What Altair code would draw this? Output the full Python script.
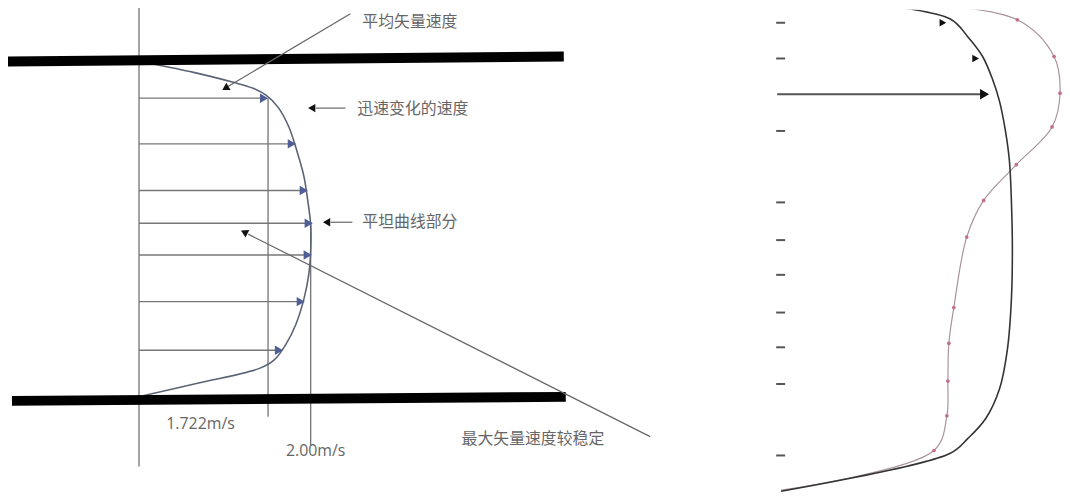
import altair as alt
import pandas as pd

# ---------------- data (diagram units) ----------------
# left panel: pipe walls (x0, y0, x1, y1)
wall_x0 = [8, 12]
wall_y0 = [60, 402]
wall_x1 = [568, 570]
wall_y1 = [55, 398]

# velocity profile curve
profile_x = [152, 195, 235, 255, 268, 280, 291, 299, 306, 310, 313, 313, 311, 306, 298, 288, 276, 262, 200, 143]
profile_y = [62, 71, 81, 87, 94, 106, 126, 150, 175, 200, 225, 250, 275, 300, 325, 345, 361, 369, 384, 397]

# velocity vectors: row position and tip
vec_y = [97, 143, 190, 223, 255, 302, 351]
vec_tip = [266, 294, 306, 311, 310, 303, 281]
vec_origin = 140

# reference lines (x, y top, y bottom)
ref_x = [140, 270, 313]
ref_y0 = [5, 97, 222]
ref_y1 = [468, 418, 447]
ref_labels = ["", "1.722m/s", "2.00m/s"]
ref_label_x = [0, 202, 318]
ref_label_y = [0, 425, 453]

# annotations: leader lines (from, to) and text
lead_x0 = [353, 348, 355, 655]
lead_y0 = [12, 107, 222, 438]
lead_x1 = [230, 318, 333, 250]
lead_y1 = [85, 107, 222, 234]
head_x = [227, 314, 329, 246]
head_y = [87, 107, 222, 232]
head_angle = [239, 270, 270, 297]
note_text = ["平均矢量速度", "迅速变化的速度", "平坦曲线部分", "最大矢量速度较稳定"]
note_x = [365, 360, 365, 465]
note_y = [20, 108, 222, 440]

# right panel: computed profile (black) and measured profile (pink)
calc_x = [860, 957, 975, 990, 1000, 1007, 1013, 1017, 1019, 1020, 1019, 1015, 1007, 993, 975, 957, 787]
calc_y = [0, 17, 35, 55, 78, 100, 130, 160, 200, 250, 300, 350, 390, 420, 440, 455, 493]
meas_x = [905, 1025, 1062, 1068, 1060, 1024, 991, 974, 961, 956, 955, 954, 941, 787]
meas_y = [0, 18, 55, 92, 126, 164, 200, 237, 308, 344, 382, 417, 452, 492]
meas_marked = [False] + [True] * 12 + [False]
tick_y = [21, 57, 130, 202, 240, 275, 313, 348, 385, 457]
tick_x0, tick_x1 = 782, 791
r_arrow_y = 93
r_arrow_x0, r_arrow_x1 = 783, 990
r_head_x = [950, 983, 992]
r_head_y = [21, 57, 93]

# ---------------- build chart ----------------
xs = alt.Scale(domain=[8, 1070], nice=False, zero=False)
ys = alt.Scale(domain=[8, 499], nice=False, zero=False, reverse=True)


def X(f="x"):
    return alt.X(f"{f}:Q", scale=xs, axis=None)


def Y(f="y"):
    return alt.Y(f"{f}:Q", scale=ys, axis=None)


walls = alt.Chart(pd.DataFrame({"x": wall_x0, "y": wall_y0, "x2": wall_x1, "y2": wall_y1})).mark_rule(
    color="black", strokeWidth=10, strokeCap="butt"
).encode(x=X(), y=Y(), x2="x2:Q", y2="y2:Q")

refs = alt.Chart(pd.DataFrame({"x": ref_x, "y": ref_y0, "y2": ref_y1})).mark_rule(
    color="#666", strokeWidth=1.2
).encode(x=X(), y=Y(), y2="y2:Q")

ref_text = alt.Chart(pd.DataFrame({"x": ref_label_x[1:], "y": ref_label_y[1:], "t": ref_labels[1:]})).mark_text(
    font="Open Sans", fontSize=16, color="#666", align="center", baseline="middle"
).encode(x=X(), y=Y(), text="t:N")

vecs = alt.Chart(pd.DataFrame({"x": [vec_origin] * len(vec_y), "x2": vec_tip, "y": vec_y})).mark_rule(
    color="#777", strokeWidth=1.4
).encode(x=X(), x2="x2:Q", y=Y())

vec_heads = alt.Chart(pd.DataFrame({"x": vec_tip, "y": vec_y})).mark_point(
    shape="triangle-right", filled=True, color="#4f5f96", size=90, opacity=1
).encode(x=X(), y=Y())

profile = alt.Chart(pd.DataFrame({"x": profile_x, "y": profile_y, "o": range(len(profile_x))})).mark_line(
    color="#5b6475", strokeWidth=1.6, interpolate="catmull-rom"
).encode(x=X(), y=Y(), order="o:Q")

leads = alt.Chart(pd.DataFrame({"x": lead_x0, "y": lead_y0, "x2": lead_x1, "y2": lead_y1})).mark_rule(
    color="#666", strokeWidth=1.2
).encode(x=X(), y=Y(), x2="x2:Q", y2="y2:Q")

heads = alt.Chart(pd.DataFrame({"x": head_x, "y": head_y, "a": head_angle})).mark_point(
    shape="triangle-up", filled=True, color="#111", size=70, opacity=1
).encode(x=X(), y=Y(), angle=alt.Angle("a:Q", scale=None))

notes = alt.Chart(pd.DataFrame({"x": note_x, "y": note_y, "t": note_text})).mark_text(
    font="Noto Sans CJK SC", fontSize=16, color="#666", align="left", baseline="middle"
).encode(x=X(), y=Y(), text="t:N")

calc = alt.Chart(pd.DataFrame({"x": calc_x, "y": calc_y, "o": range(len(calc_x))})).mark_line(
    color="#333", strokeWidth=1.6, interpolate="catmull-rom", clip=True
).encode(x=X(), y=Y(), order="o:Q")

meas_df = pd.DataFrame({"x": meas_x, "y": meas_y, "o": range(len(meas_x)), "m": meas_marked})
meas = alt.Chart(meas_df).mark_line(
    color="#a89398", strokeWidth=1.2, interpolate="catmull-rom", clip=True
).encode(x=X(), y=Y(), order="o:Q")
meas_pts = alt.Chart(meas_df).transform_filter("datum.m").mark_point(
    filled=True, color="#c27088", size=14, opacity=1
).encode(x=X(), y=Y())

ticks = alt.Chart(pd.DataFrame({"y": tick_y, "x": [tick_x0] * len(tick_y), "x2": [tick_x1] * len(tick_y)})).mark_rule(
    color="#555", strokeWidth=2
).encode(x=X(), x2="x2:Q", y=Y())

r_arrow = alt.Chart(pd.DataFrame({"x": [r_arrow_x0], "x2": [r_arrow_x1], "y": [r_arrow_y]})).mark_rule(
    color="#555", strokeWidth=2
).encode(x=X(), x2="x2:Q", y=Y())

r_heads = alt.Chart(pd.DataFrame({"x": r_head_x, "y": r_head_y, "s": [60, 60, 110]})).mark_point(
    shape="triangle-right", filled=True, color="#111", opacity=1
).encode(x=X(), y=Y(), size=alt.Size("s:Q", scale=None, legend=None))

chart = alt.layer(
    refs, vecs, profile, vec_heads, walls, leads, heads, notes, ref_text,
    meas, meas_pts, calc, ticks, r_arrow, r_heads
).properties(
    width=1062, height=491, autosize=alt.AutoSizeParams(type="none"), padding=0
).configure_view(stroke=None)

chart.save("out.html", embed_options={"renderer": "svg", "actions": False})
